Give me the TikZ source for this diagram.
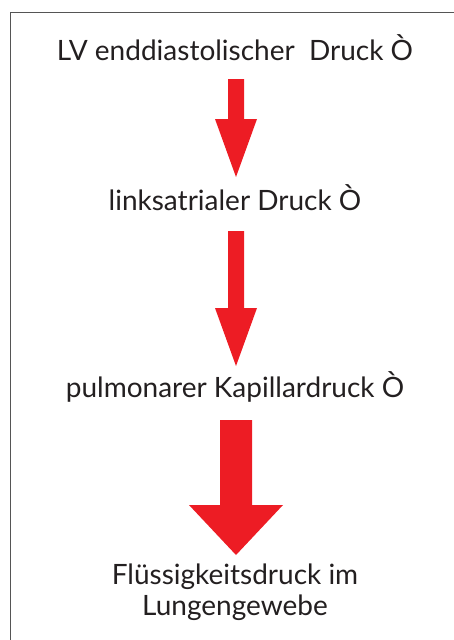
\documentclass[tikz,border=0pt]{standalone}
\usepackage{fontspec}
\setmainfont{Lato}
\definecolor{txt}{HTML}{231F20}
\definecolor{arr}{HTML}{ED1C24}
\definecolor{frame}{HTML}{555555}
\newcommand{\blockarrow}[6]{% cx, top, shaft width, head top, head width, tip
  \fill[arr] ({#1-#3/2},#2) -- ({#1+#3/2},#2) -- ({#1+#3/2},#4) -- ({#1+#5/2},#4)
    -- (#1,#6) -- ({#1-#5/2},#4) -- ({#1-#3/2},#4) -- cycle;}
\begin{document}
\begin{tikzpicture}[x=1pt,y=-1pt,
  lbl/.style={text=txt,font=\fontsize{28}{31}\selectfont,inner sep=0pt,anchor=base,align=center}]
\useasboundingbox (0,0) rectangle (453,640);
\draw[line width=1.5pt, draw=frame] (10.5,660) -- (10.5,12.5) -- (470,12.5);
\node[lbl] (t1) at (235,60) {LV enddiastolischer\ \ Druck Ò};
\node[lbl] (t2) at (235,210) {linksatrialer Druck Ò};
\node[lbl] (t3) at (235,397) {pulmonarer Kapillardruck Ò};
\node[lbl] (t4) at (235,615) {Flüssigkeitsdruck im\\Lungengewebe};
\blockarrow{236}{79}{16}{119}{42}{177}
\blockarrow{236}{231}{16}{308}{42}{366}
\blockarrow{236}{420}{32}{505}{94}{555}
\end{tikzpicture}
\end{document}
